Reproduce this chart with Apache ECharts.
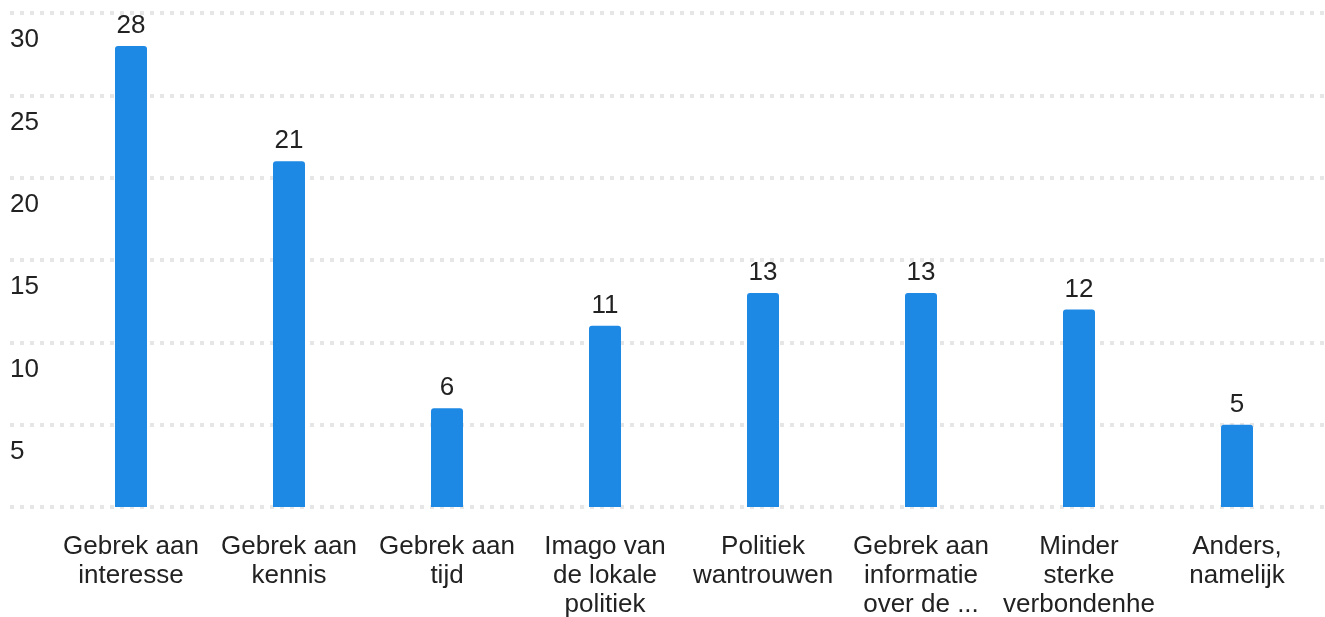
<!DOCTYPE html>
<html><head><meta charset="utf-8">
<script src="https://cdn.jsdelivr.net/npm/echarts@6/dist/echarts.min.js"></script>
<style>html,body{margin:0;padding:0;background:#fff}#c{width:1325px;height:617px}</style>
</head><body><div id="c"></div>
<script>
const categories = ["Gebrek aan\ninteresse","Gebrek aan\nkennis","Gebrek aan\ntijd","Imago van\nde lokale\npolitiek","Politiek\nwantrouwen","Gebrek aan\ninformatie\nover de ...","Minder\nsterke\nverbondenhe","Anders,\nnamelijk"];
const values = [28,21,6,11,13,13,12,5];
const yMin = 0, yMax = 30, yStep = 5;
const font = '"Liberation Sans", Arial, sans-serif';
const chart = echarts.init(document.getElementById('c'));
chart.setOption({
  animation:false,
  grid:[
    {left:52,right:9,top:13,bottom:110,containLabel:false,outerBoundsMode:'none'},
    {left:10,right:0,top:13,bottom:110,containLabel:false,outerBoundsMode:'none'}
  ],
  xAxis:[
    {type:'category',gridIndex:0,data:categories,axisLine:{show:false},axisTick:{show:false},
     axisLabel:{interval:0,fontSize:26,lineHeight:29,color:'#222',fontFamily:font,margin:25}},
    {type:'value',gridIndex:1,show:false,min:0,max:1}
  ],
  yAxis:[
    {type:'value',gridIndex:0,min:yMin,max:yMax,interval:yStep,show:false,splitLine:{show:false}},
    {type:'value',gridIndex:1,min:yMin,max:yMax,interval:yStep,axisLine:{show:false},axisTick:{show:false},
     splitLine:{show:true,lineStyle:{color:'#e6e6e6',width:4,type:[4,6]}},
     axisLabel:{inside:true,showMinLabel:false,fontSize:26,color:'#222',fontFamily:font,align:'left',verticalAlign:'top',padding:[14,0,0,0],margin:0}}
  ],
  series:[{
    type:'bar',xAxisIndex:0,yAxisIndex:0,data:values,barWidth:32,z:5,
    itemStyle:{color:'#1e88e5',borderRadius:[3,3,0,0]},
    label:{show:true,position:'top',distance:7,fontSize:26,color:'#222',fontFamily:font}
  }]
});
</script></body></html>
